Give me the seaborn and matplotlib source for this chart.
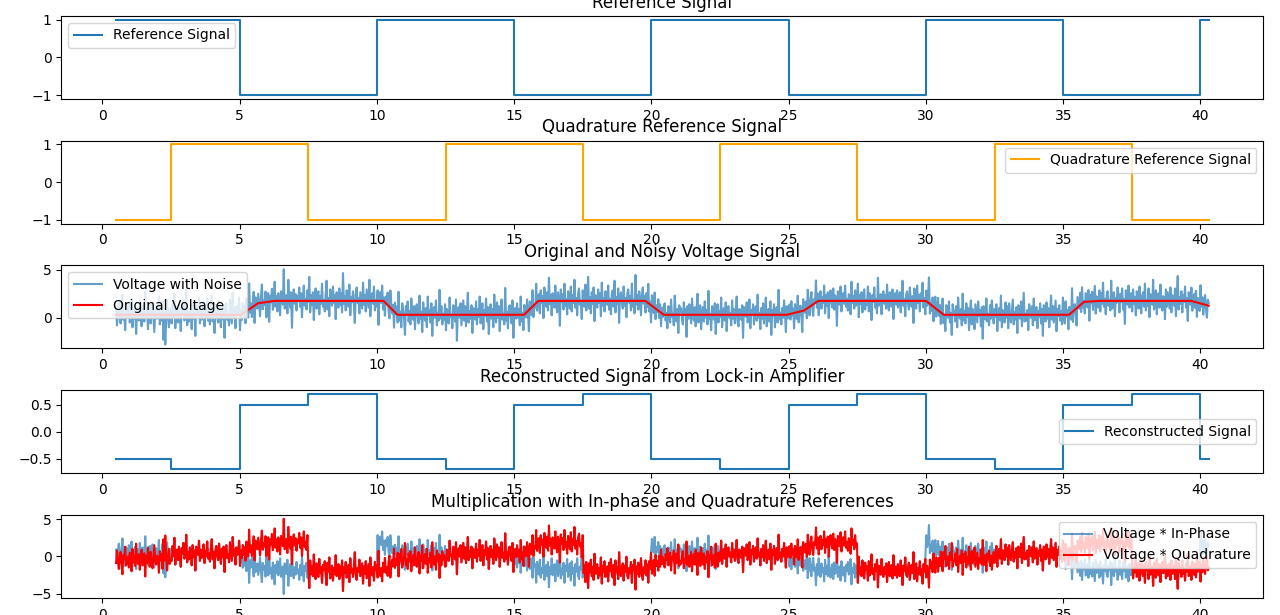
import numpy as np
import seaborn as sns
import matplotlib
matplotlib.use("Agg")
import matplotlib.pyplot as plt

# Square-wave references as step edges / levels (steps-post)
ref_t = [0.5, 5, 10, 15, 20, 25, 30, 35, 40, 40.3]
ref_v = [1, -1, 1, -1, 1, -1, 1, -1, 1, 1]
quad_t = [0.5, 2.5, 7.5, 12.5, 17.5, 22.5, 27.5, 32.5, 37.5, 40.3]
quad_v = [-1, 1, -1, 1, -1, 1, -1, 1, -1, -1]

# Original (clean) voltage, breakpoints
volt_t = [0.5, 5.05, 5.67, 6.27, 10.24, 10.75, 15.36, 15.88, 19.78, 20.45,
          24.93, 25.56, 26.08, 30.0, 30.65, 35.21, 35.76, 36.33, 39.66, 40.3]
volt_v = [0.3, 0.3, 1.5, 1.75, 1.75, 0.3, 0.3, 1.75, 1.75, 0.3,
          0.3, 0.75, 1.75, 1.75, 0.3, 0.3, 1.65, 1.75, 1.75, 1.25]

# Lock-in reconstructed output
recon_t = [0.5, 2.5, 5, 7.5, 10, 12.5, 15, 17.5, 20, 22.5, 25, 27.5,
           30, 32.5, 35, 37.5, 40, 40.3]
recon_v = [-0.5, -0.7, 0.5, 0.7, -0.5, -0.7, 0.5, 0.7, -0.5, -0.7, 0.5, 0.7,
           -0.5, -0.7, 0.5, 0.7, -0.5, -0.5]

# Noise added on top of the voltage (hand read, approximate), first half of the record
noise_a = [
    0.6, -1.1, 0.3, 1.4, -0.2, -0.9, 0.8, 2.1, -0.5, 0.1, -1.6, 0.9, 0.4, -0.3, 1.2, -0.8, 0.0, 1.7, -1.3, 0.5,
    -0.4, 1.0, -2.0, 0.2, 0.7, -0.6, 1.5, -0.1, -1.2, 0.9, 0.3, -0.7, 2.4, -0.3, 0.6, -1.5, 0.1, 1.1, -0.9, 0.4,
    1.3, -0.2, -1.8, 0.5, 0.8, -0.4, 0.0, 1.9, -1.0, 0.2, -0.6, 1.4, -2.6, 0.3, -3.1, -0.5, 1.6, -0.1, -1.3, 0.7,
    0.2, -0.9, 1.1, -0.3, 2.2, -1.4, 0.4, 0.6, -0.8, 1.0, -0.2, -1.7, 0.8, 0.1, 1.5, -0.6, -0.3, 2.6, -1.1, 0.3,
    -0.7, 0.9, 0.2, -1.5, 1.2, -0.4, 0.5, -2.2, 1.0, 0.3, -0.1, 1.8, -0.9, 0.6, -0.5, 0.0, 1.3, -1.2, 0.4, -0.3,
    1.7, -0.6, 0.1, -1.0, 0.8, 2.0, -0.7, 0.3, -1.9, 0.5, 1.1, -0.2, -0.8, 1.4, 0.2, -1.3, 0.7, -0.4, 1.0, -2.4,
    0.4, 1.2, -0.5, 0.0, -1.1, 1.6, 0.3, -0.9, 2.3, -0.2, 0.6, -1.4, 0.9, -0.1, 0.2, 1.8, -1.6, 0.5, -0.6, 1.1,
    -0.3, 0.7, -1.2, 1.3, 0.1, -0.8, 2.7, -0.4, 0.5, -1.0, 0.0, 1.5, -1.8, 0.8, 0.3, -0.5, 1.0, -0.2, -1.4, 0.6,
    1.9, -0.7, 0.2, -0.3, 1.1, -1.6, 0.4, 0.9, -2.1, 0.6, -0.1, 1.3, -0.9, 0.0, 2.0, -0.6, 0.5, -1.1, 0.8, 0.2,
    -1.5, 1.0, 0.3, -0.4, 3.3, -0.8, -0.2, 0.6, -1.3, 2.2, 0.1, -0.7, 0.9, -2.8, 0.4, 1.2, -0.3, 0.7, -1.0, 0.5,
    0.0, 1.4, -0.6, 0.8, -1.7, 0.3, 1.6, -0.5, 0.2, -0.9, 1.1, -0.1, 2.5, -1.2, 0.6, -0.4, 0.9, -2.0, 0.4, 1.3,
    -0.8, 0.2, 1.0, -1.4, 0.5, -0.3, 1.8, -0.6, 0.1, -1.1, 0.7, 2.1, -0.9, 0.3, -1.6, 1.2, 0.0, -0.5, 1.5, -0.2,
    0.6, -1.9, 0.9, 0.2, -0.7, 1.3, -0.4, 0.8, -1.2, 2.9, -0.3, 0.5, -1.0, 1.1, 0.1, -0.6, 1.7, -1.5, 0.4, -0.1,
    1.0, -0.5, -2.3, 0.7, 1.4, -0.2, 0.3, -1.3, 0.9, 0.0, -0.8, 1.9, -0.4, 0.6, -1.1, 1.2, 0.2, -0.7, 2.2, -1.6,
    0.3, 0.8, -0.3, 1.5, -1.0, 0.1, -0.6, 1.1, -2.5, 0.5, 0.9, -0.2, 1.6, -0.9, 0.4, -1.4, 0.7, 0.0, 1.3, -0.5,
    -1.2, 1.8, 0.2, -0.4, 0.6, -1.7, 1.0, -0.1, 0.8, -0.8, 2.4, -0.6, 0.3, -1.3, 1.2, 0.5, -0.3, -2.1, 0.9, 0.1,
    1.4, -0.7, 0.4, -1.0, 1.7, 0.0, -0.5, 0.9, -1.5, 0.6, 1.1, -0.2, -0.9, 2.0, -0.4, 0.3, -1.8, 1.3, 0.2, -0.6,
    0.7, -1.3, 1.9, -0.1, 0.5, -0.8, 1.2, -2.2, 0.4, 0.8, -0.3, 1.5, -1.1, 0.2, -0.6, 2.6, -0.4, 0.9, -1.0, 0.1,
    -0.5, 1.1, -1.6, 0.6, 0.3, -0.9, 1.8, -0.2, 0.0, -1.4, 1.0, 0.5, -0.7, 1.6, -2.7, 0.4, 0.8, -0.3, 1.2, -1.1,
    0.2, 1.5, -0.6, 0.9, -1.2, 0.1, 2.3, -0.8, 0.4, -0.4, 1.0, -1.9, 0.7, 0.3, -0.5, 1.4, -1.0, 0.6, -0.2, 1.9,
    -0.9, 0.3, 1.2, -1.5, 0.5, -0.1, 1.7, -0.7, 0.8, -2.0, 0.2, 1.1, -0.4, 0.6, -1.3, 2.1, 0.0, -0.8, 1.3, -0.3,
    0.9, -1.7, 0.4, 1.6, -0.5, 0.1, -1.0, 2.8, -0.6, 0.3, -1.4, 0.8, 1.0, -0.2, -0.9, 1.5, -2.4, 0.5, 0.7, -0.4,
    1.2, -0.3, 0.6, -1.1, 1.9, -0.7, 0.2, -1.6, 1.0, 0.4, -0.5, 1.3, -0.1, -2.2, 0.8, 0.5, -0.8, 1.7, -1.2, 0.0,
    -0.4, 2.0, -0.9, 0.3, 0.7, -1.3, 1.1, -0.2, 0.5, -1.8, 1.4, 0.1, -0.6, 0.9, -1.0, 2.4, -0.3, 0.6, -1.5, 0.8,
    0.1, -0.7, 1.6, -0.4, -1.2, 0.9, 0.3, -2.6, 1.2, -0.1, 0.7, -0.9, 1.8, -0.5, 0.2, -1.4, 1.0, 0.4, -0.8, 1.5,
    -1.1, 0.6, -0.2, 2.2, -0.7, 0.3, -1.5, 0.8, 1.3, -0.4, 0.0, -1.9, 1.1, 0.5, -0.6, 1.7, -1.0, 0.2, 2.5, -0.8,
    0.4, -1.3, 0.9, -0.3, 1.4, -2.1, 0.6, 0.1, -0.7, 1.2, -0.2, 0.8, -1.6, 1.9, -0.5, 0.3, -1.1, 1.0, 0.0, -0.4,
    1.6, -0.9, 0.2, -1.4, 0.7, 1.1, -0.6, 2.1, -1.2, 0.4, -0.3, 1.3, -2.3, 0.5, 0.9, -0.1, -0.8, 1.5, -0.5, 0.3,
    -1.7, 0.8, 1.2, -0.2, 0.5, -1.0, 1.8, -0.6, 0.1, -1.3, 2.7, -0.4, 0.6, -0.9, 1.0, 0.2, -1.5, 0.7, 1.4, -0.3,
    0.5, -1.2, 0.9, -0.5, 2.0, -0.8, 0.3, -1.8, 1.1, 0.0, -0.6, 1.6, -1.1, 0.4, -0.2, 1.2, -0.7, 0.8, -1.4, 0.6,
]
# second half of the record
noise_b = [
    -0.3, 0.8, 1.2, -0.6, 0.2, -1.4, 0.9, 0.5, -0.8, 1.6, -0.2, 0.1, -1.1, 2.0, 0.4, -0.7, 0.6, -1.9, 1.0, 0.3,
    0.7, -0.5, -1.0, 1.3, 0.0, 0.6, -2.3, 0.9, -0.4, 1.1, 0.2, -0.9, 1.7, -0.1, -0.6, 0.8, -1.2, 0.4, 2.2, -0.8,
    -0.2, 1.0, -1.5, 0.3, 0.8, -0.7, 1.4, -0.3, 0.5, -1.0, 2.5, -0.4, 0.1, -1.6, 0.9, 0.6, -0.5, 1.2, -2.0, 0.2,
    1.1, -0.8, 0.4, -0.2, 1.8, -1.3, 0.0, 0.7, -0.6, 1.3, -1.7, 0.5, 0.9, -0.3, 0.2, -1.1, 1.5, -0.4, 0.6, -0.9,
    0.3, 1.9, -0.7, -1.2, 0.6, 0.1, -0.5, 1.0, -2.4, 0.8, 0.4, -0.2, 1.3, -0.8, -0.1, 1.6, -1.4, 0.5, 0.0, 1.1,
    -1.0, 0.4, 0.9, -0.6, 2.1, -0.3, 0.2, -1.5, 0.7, -0.4, 1.2, -0.9, 0.3, 1.8, -1.2, 0.0, 0.6, -0.7, 1.4, -2.1,
    0.5, -0.1, 1.1, -1.3, 0.3, 0.8, -0.8, 2.6, -0.5, 0.2, -1.0, 0.7, -0.3, 1.5, 0.1, -1.8, 0.9, -0.4, 0.4, 1.0,
    -0.6, 1.3, -0.2, 0.5, -1.6, 0.9, 0.2, -0.7, 1.7, -1.1, 0.0, 0.6, -0.5, -2.2, 1.2, 0.3, -0.3, 0.8, -1.0, 1.9,
    0.1, -0.9, 0.7, 1.4, -0.4, -1.2, 0.5, 0.0, 2.3, -0.6, 0.8, -1.5, 0.2, 1.0, -0.8, 0.4, -0.2, 1.6, -1.3, 0.6,
    -0.5, 0.9, -1.8, 0.3, 1.1, -0.1, -0.7, 1.3, -0.9, 0.6, 0.2, -2.6, 1.0, 0.4, -0.4, 1.5, -1.1, 0.1, 0.8, -0.3,
    1.6, -0.6, 0.2, -1.0, 0.7, 0.3, -1.4, 2.0, -0.2, 0.5, -0.8, 1.1, -0.5, 0.0, 1.8, -1.7, 0.6, -0.3, 0.9, -1.2,
    0.4, 1.2, -0.9, 0.1, -0.4, 1.5, -1.1, 0.8, 0.3, -2.0, 0.6, -0.1, 1.4, -0.7, 0.2, -1.3, 2.4, -0.5, 0.0, 0.7,
    -1.4, 0.5, 1.0, -0.3, 0.6, -0.8, 1.7, -0.2, -1.0, 0.9, 0.4, -0.6, 1.2, -1.9, 0.3, 0.8, -0.4, 1.1, -0.7, 0.0,
    0.9, -1.2, 0.3, 2.1, -0.5, 0.2, -1.6, 0.7, 1.0, -0.3, -0.9, 1.4, 0.1, -0.6, 0.5, -2.3, 1.3, 0.4, -0.8, 1.6,
    -0.2, 0.6, -1.1, 0.8, 0.0, 1.9, -0.7, 0.3, -1.4, 1.1, -0.4, 0.5, 2.7, -1.0, 0.2, -0.6, 0.9, -1.5, 0.4, 1.2,
    -0.8, 0.1, 1.3, -0.5, 0.7, -1.2, 0.4, 1.6, -0.9, 0.0, -1.7, 1.0, 0.6, -0.3, 1.4, -0.8, 0.2, -2.1, 1.1, 0.5,
    0.3, -0.7, 0.9, -1.3, 1.8, 0.1, -0.4, 0.6, -1.1, 2.2, -0.6, 0.4, -0.9, 1.2, -0.2, 0.7, -1.6, 0.3, 1.5, -1.0,
    0.6, -0.3, -1.5, 1.1, 0.2, -0.8, 1.4, -0.1, 0.5, -1.2, 0.8, -2.5, 0.9, 0.4, -0.5, 1.7, -0.7, 0.1, -1.1, 1.0,
    -0.4, 1.5, 0.2, -0.9, 0.6, -0.2, 1.1, -1.7, 0.3, 0.7, -0.6, 2.0, -1.3, 0.5, 0.0, -0.8, 1.3, -0.3, 0.9, -1.4,
    1.2, -0.1, -0.8, 0.4, 1.6, -1.0, 0.3, -0.5, 0.8, -1.9, 1.0, 0.2, -0.4, 1.4, -1.2, 0.6, 2.3, -0.7, 0.1, -0.6,
    0.5, -1.6, 1.1, 0.0, -0.3, 0.9, -1.1, 1.7, -0.6, 0.3, 0.8, -1.4, 0.4, -0.2, 1.2, -0.9, 0.6, -2.2, 1.0, 0.2,
    -0.7, 1.3, -0.4, 0.7, -1.3, 0.1, 2.0, -0.5, 0.9, -0.8, 0.3, 1.5, -1.7, 0.6, -0.1, 1.0, -0.6, 0.4, -1.0, 1.8,
    0.0, -0.9, 1.4, -0.2, 0.5, -1.5, 0.8, 0.3, -0.7, 2.5, -1.1, 0.2, 0.6, -0.4, -1.8, 1.1, 0.4, -0.3, 1.3, -0.8,
    1.7, -0.5, 0.1, -1.2, 0.9, 0.4, -0.6, 1.2, -2.0, 0.7, -0.2, 1.0, -0.9, 0.3, 1.6, -1.3, 0.5, 0.0, -0.7, 1.1,
    -1.1, 0.8, -0.3, 1.9, -0.6, 0.2, -1.4, 0.6, 1.0, -0.5, 0.1, -1.0, 2.1, -0.8, 0.4, 0.9, -1.6, 0.3, -0.2, 1.4,
    0.6, -1.2, 0.7, -0.1, 1.3, -0.9, 0.2, -2.4, 1.1, 0.5, -0.4, 1.6, -0.7, 0.0, 0.8, -1.1, 1.2, -0.3, 0.4, -1.5,
    1.0, 0.3, -0.8, 1.5, -0.2, -1.3, 0.6, 0.9, -0.6, 1.8, -1.0, 0.1, -0.5, 1.3, -1.7, 0.7, 0.2, -0.4, 2.2, -0.9,
    -0.3, 1.1, -1.4, 0.4, 0.8, -0.7, 1.7, -0.1, -1.0, 0.5, 0.3, -1.9, 1.2, -0.6, 0.9, 0.0, -0.8, 1.4, -1.2, 0.6,
    0.2, -0.5, 1.3, -1.6, 0.7, 2.6, -0.9, 0.4, -0.3, 1.0, -1.2, 0.6, -0.1, 1.5, -0.7, 0.3, -2.1, 0.9, 0.5, -0.4,
    1.4, -1.0, 0.2, 0.8, -0.6, 1.2, -1.5, 0.5, 0.0, -0.8, 1.9, -0.3, 0.7, -1.1, 0.4, 1.0, -0.5, -1.3, 0.6, 0.3,
]
noise = noise_a + noise_b

# sample times and derived signals
t = np.linspace(0.5, 40.3, len(noise))
clean = np.interp(t, volt_t, volt_v)
noisy = clean + np.array(noise)


def step_at(edges, levels, x):
    idx = np.searchsorted(edges, x, side="right") - 1
    idx = np.clip(idx, 0, len(levels) - 1)
    return np.array(levels)[idx]


ref_s = step_at(ref_t, ref_v, t)
quad_s = step_at(quad_t, quad_v, t)

fig, axes = plt.subplots(5, 1, figsize=(12.8, 6.15), dpi=100)
plt.subplots_adjust(left=0.048, right=0.987, top=0.974, bottom=0.028, hspace=0.506)

ax = axes[0]
sns.lineplot(x=ref_t, y=ref_v, ax=ax, drawstyle="steps-post", estimator=None,
             label="Reference Signal")
ax.set_title("Reference Signal")
ax.legend(loc="upper left")

ax = axes[1]
sns.lineplot(x=quad_t, y=quad_v, ax=ax, drawstyle="steps-post", estimator=None,
             color="orange", label="Quadrature Reference Signal")
ax.set_title("Quadrature Reference Signal")
ax.legend(loc="upper right")

ax = axes[2]
sns.lineplot(x=t, y=noisy, ax=ax, estimator=None, alpha=0.7,
             label="Voltage with Noise")
sns.lineplot(x=volt_t, y=volt_v, ax=ax, estimator=None, color="red",
             label="Original Voltage")
ax.set_title("Original and Noisy Voltage Signal")
ax.legend(loc="upper left")

ax = axes[3]
sns.lineplot(x=recon_t, y=recon_v, ax=ax, drawstyle="steps-post", estimator=None,
             label="Reconstructed Signal")
ax.set_title("Reconstructed Signal from Lock-in Amplifier")
ax.legend(loc="center right")

ax = axes[4]
sns.lineplot(x=t, y=noisy * ref_s, ax=ax, estimator=None, alpha=0.7,
             label="Voltage * In-Phase")
sns.lineplot(x=t, y=noisy * quad_s, ax=ax, estimator=None, color="red",
             label="Voltage * Quadrature")
ax.set_title("Multiplication with In-phase and Quadrature References")
ax.legend(loc="upper right")

for ax in axes:
    ax.set_xlabel("")
    ax.set_ylabel("")

plt.savefig("out.png")
